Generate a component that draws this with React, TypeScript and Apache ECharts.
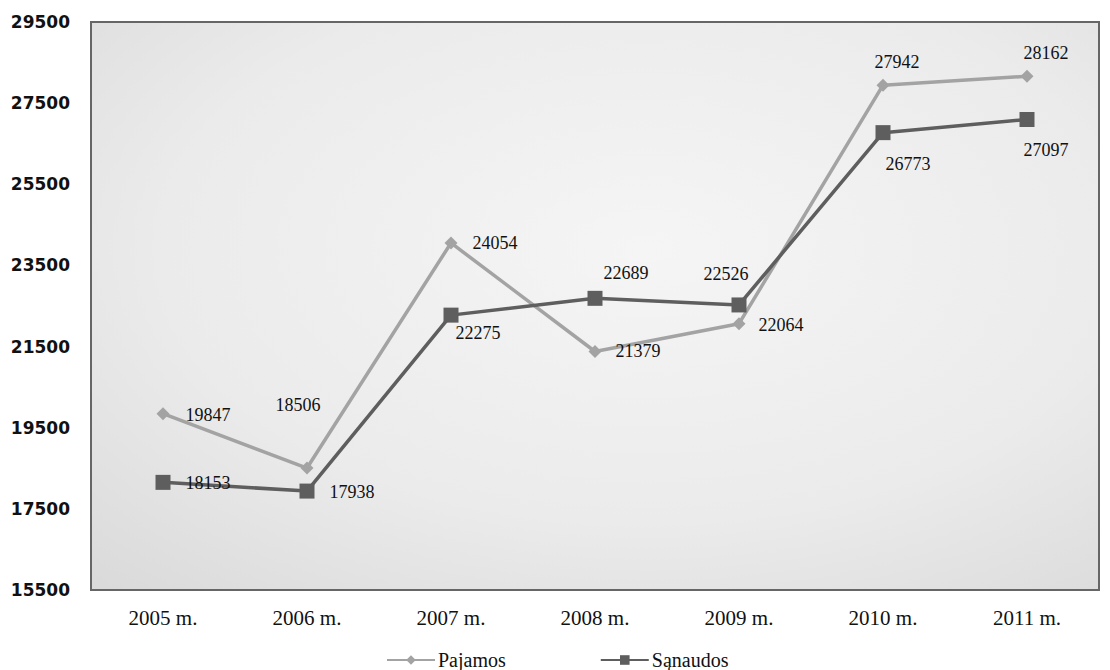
import React, { useEffect, useRef } from "react";
import * as echarts from "echarts";

const categories = ["2005 m.", "2006 m.", "2007 m.", "2008 m.", "2009 m.", "2010 m.", "2011 m."];
const pajamos = [19847, 18506, 24054, 21379, 22064, 27942, 28162];
const sanaudos = [18153, 17938, 22275, 22689, 22526, 26773, 27097];
const seriesNames = ["Pajamos", "Sąnaudos"];

// label offsets (style only), relative to the marker centre
const pajamosLabelOffsets = [[45, 1], [-9, -63], [44, 0], [43, 0], [42, 1], [14, -23], [19, -23]];
const sanaudosLabelOffsets = [[45, 1], [45, 1], [27, 18], [31, -25], [-13, -31], [25, 31], [19, 31]];

const labelFont = {
  fontFamily: "'Liberation Serif', 'Times New Roman', serif",
  fontSize: 18,
  color: "#111",
};

function withLabels(values: number[], offsets: number[][]) {
  return values.map((v, i) => ({
    value: v,
    label: {
      show: true,
      position: "inside",
      offset: offsets[i],
      ...labelFont,
    },
  }));
}

export default function App() {
  const ref = useRef<HTMLDivElement>(null);
  useEffect(() => {
    const chart = echarts.init(ref.current!, undefined, { renderer: "svg" });
    chart.setOption({
      animation: false,
      backgroundColor: "#ffffff",
      grid: {
        left: 91,
        right: 11,
        top: 22,
        bottom: 80,
        show: true,
        borderColor: "#666666",
        borderWidth: 2,
        backgroundColor: new echarts.graphic.RadialGradient(0.55, 0.4, 0.8, [
          { offset: 0, color: "#f5f5f5" },
          { offset: 0.6, color: "#ebebeb" },
          { offset: 1, color: "#dadada" },
        ]),
      },
      legend: {
        left: 386,
        top: 650,
        padding: 0,
        itemGap: 94,
        itemWidth: 48,
        itemHeight: 12,
        data: seriesNames,
        textStyle: {
          fontFamily: "'Liberation Serif', 'Times New Roman', serif",
          fontSize: 20,
          color: "#111",
          padding: [0, 0, 0, -2],
        },
      },
      xAxis: {
        type: "category",
        data: categories,
        boundaryGap: true,
        axisLine: { show: false },
        axisTick: { show: false },
        axisLabel: {
          margin: 17,
          fontFamily: "'Liberation Serif', 'Times New Roman', serif",
          fontSize: 21,
          color: "#111",
        },
      },
      yAxis: {
        type: "value",
        min: 15500,
        max: 29500,
        interval: 2000,
        axisLine: { show: false },
        axisTick: { show: false },
        splitLine: { show: false },
        axisLabel: {
          margin: 21,
          formatter: (v: number) => String(v),
          fontFamily: "'DejaVu Sans', sans-serif",
          fontWeight: "bold",
          fontSize: 17,
          color: "#111",
        },
      },
      series: [
        {
          name: seriesNames[0],
          type: "line",
          data: withLabels(pajamos, pajamosLabelOffsets),
          symbol: "diamond",
          symbolSize: 13,
          lineStyle: { color: "#a3a3a3", width: 3.5 },
          itemStyle: { color: "#a3a3a3" },
          z: 2,
        },
        {
          name: seriesNames[1],
          type: "line",
          data: withLabels(sanaudos, sanaudosLabelOffsets),
          symbol: "rect",
          symbolSize: 15,
          lineStyle: { color: "#5e5e5e", width: 3.5 },
          itemStyle: { color: "#5e5e5e" },
          z: 3,
        },
      ],
    });
    return () => chart.dispose();
  }, []);
  return (
    <div
      ref={ref}
      style={{ position: "fixed", left: 0, top: 0, width: 1110, height: 670 }}
    />
  );
}
